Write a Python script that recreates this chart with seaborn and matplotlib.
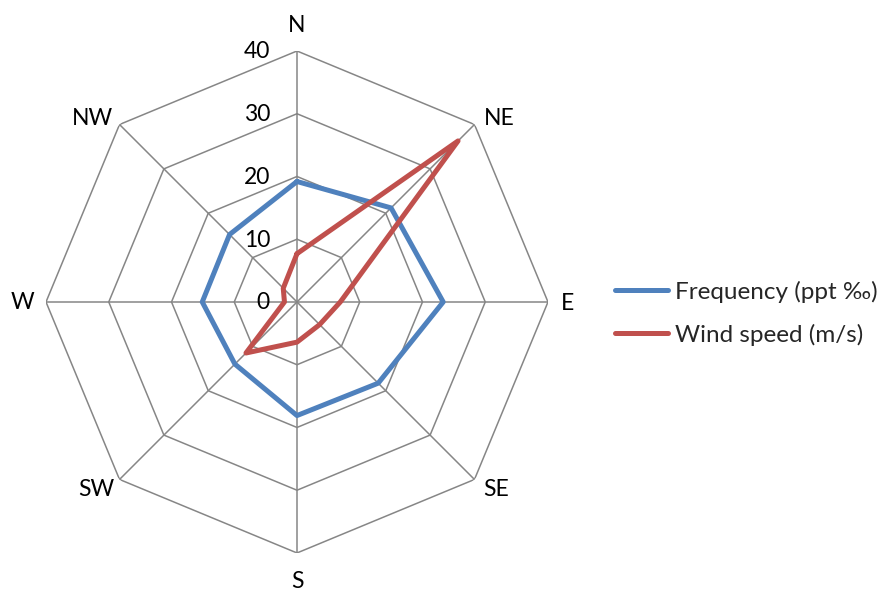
import numpy as np
import pandas as pd
import matplotlib
matplotlib.use("Agg")
import matplotlib.pyplot as plt
from matplotlib.lines import Line2D
import seaborn as sns

directions = ["N", "NE", "E", "SE", "S", "SW", "W", "NW"]
frequency = [19.2, 21.2, 23.3, 18.3, 18.1, 14.0, 15.1, 15.2]
wind_speed = [7.7, 36.3, 6.9, 5.1, 6.4, 11.5, 2.0, 3.1]
r_ticks = [0, 10, 20, 30, 40]
series_names = ["Frequency (ppt \u2030)", "Wind speed (m/s)"]

sns.set_theme(style="white")
plt.rcParams['font.family'] = ['Lato', 'DejaVu Sans']

fig = plt.figure(figsize=(8.83, 5.92), dpi=100)
ax = fig.add_axes([0.0521, 0.0659, 0.5685, 0.848], projection="polar")
ax.set_theta_zero_location("N")
ax.set_theta_direction(-1)
ax.set_ylim(0, 40)
ax.grid(False)
ax.spines["polar"].set_visible(False)
ax.set_xticks([])
ax.set_yticks([])
ax.set_facecolor("none")

n = len(directions)
angles = np.arange(n) * 2 * np.pi / n
closed = np.append(angles, angles[0])
grid_c = "#868686"
for r in r_ticks[1:]:
    ax.plot(closed, [r] * (n + 1), color=grid_c, lw=1.1, zorder=1)
for a in angles:
    ax.plot([a, a], [0, r_ticks[-1]], color=grid_c, lw=1.1, zorder=1)

colors = ["#4F81BD", "#C0504D"]
rows = []
for name, vals in zip(series_names, [frequency, wind_speed]):
    for i in range(n + 1):
        rows.append({"theta": closed[i], "r": vals[i % n], "series": name})
df = pd.DataFrame(rows)
sns.lineplot(data=df, x="theta", y="r", hue="series", palette=colors, sort=False,
             estimator=None, units="series", lw=3.6, ax=ax, zorder=3, legend=False)
ax.set_xlabel("")
ax.set_ylabel("")

# radial tick labels, left of the north spoke
for r in r_ticks:
    ax.annotate(str(r), xy=(0, r), xycoords="data", xytext=(-27, -1), textcoords="offset pixels",
                ha="right", va="center", fontsize=16.5, color="black")

# direction labels, offset from the outer ring vertices
label_offsets = {"N": (0, 25.4), "NE": (24.5, 6.3), "E": (20, -2), "SE": (21.5, -10.2),
                 "S": (0, -28.5), "SW": (-23, -10.2), "W": (-23.5, -1), "NW": (-27, 6.3)}
for a, d in zip(angles, directions):
    ax.annotate(d, xy=(a, r_ticks[-1]), xycoords="data", xytext=label_offsets[d],
                textcoords="offset pixels", ha="center", va="center", fontsize=16.5,
                color="black", annotation_clip=False)

handles = [Line2D([0], [0], color=c, lw=3.6) for c in colors]
fig.legend(handles, series_names, loc="center left", bbox_to_anchor=(0.6716, 0.471),
           frameon=False, fontsize=17.5, handlelength=2.18, labelspacing=0.86,
           handletextpad=0.29)

fig.savefig("out.png", dpi=100)
